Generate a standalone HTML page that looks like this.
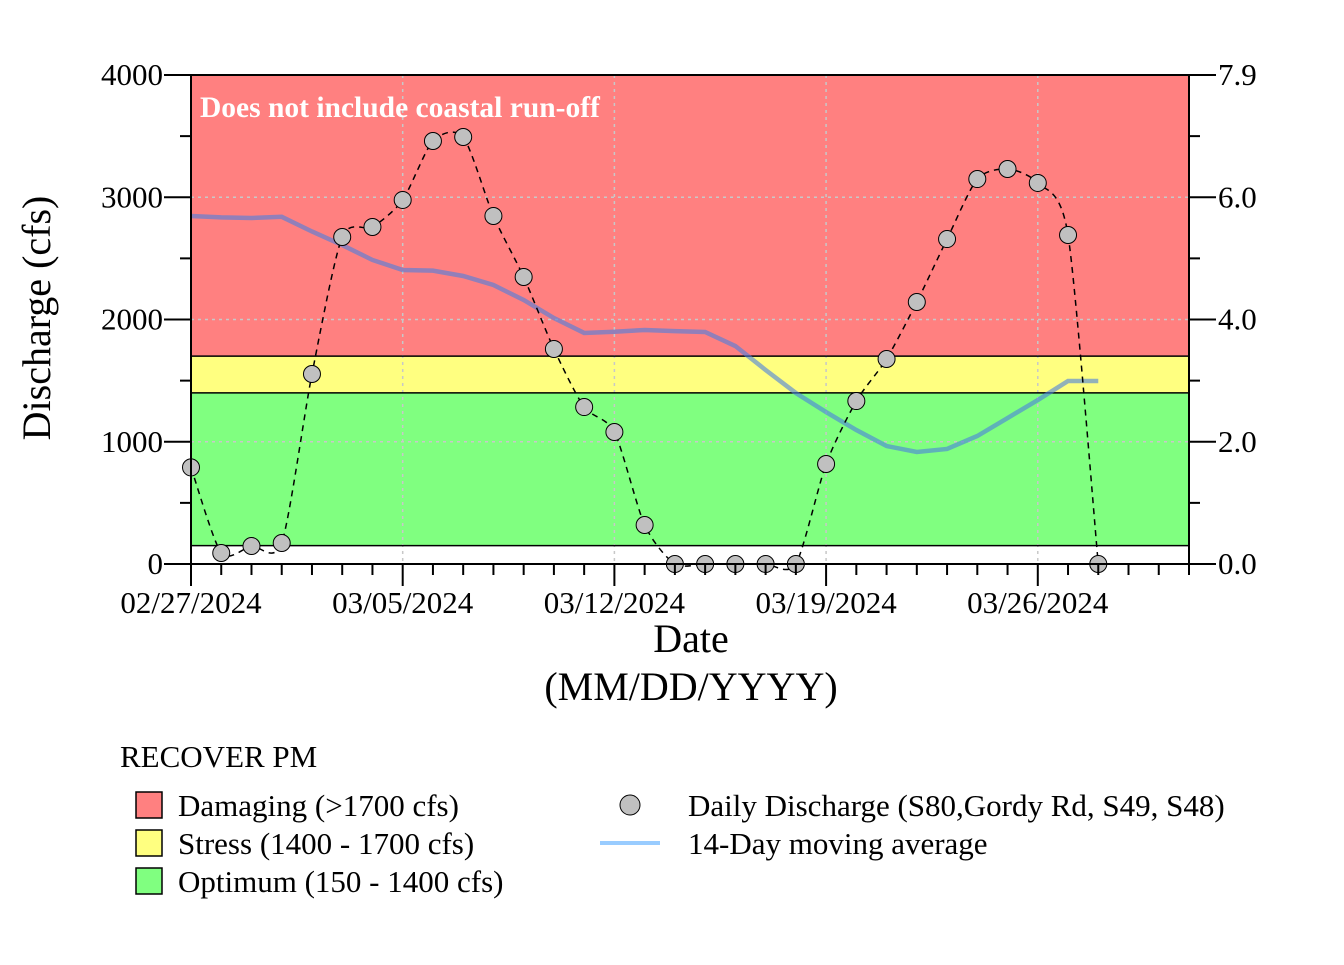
<!DOCTYPE html>
<html><head><meta charset="utf-8"><style>
body{margin:0;background:#fff}
svg text{font-family:"Liberation Serif",serif;fill:#000}
</style></head><body>
<svg width="1344" height="960" viewBox="0 0 1344 960">
<g id="plot"></g>
<g id="axes"></g>
<text x="200" y="117" font-size="29.5" font-weight="bold" style="fill:#fff">Does not include coastal run-off</text>
<text x="50" y="318" font-size="40" transform="rotate(-90 50 318)" text-anchor="middle">Discharge (cfs)</text>
<text x="691" y="652" font-size="40" text-anchor="middle">Date</text>
<text x="691" y="700" font-size="40" text-anchor="middle">(MM/DD/YYYY)</text>
<g>
<text x="120" y="767" font-size="31">RECOVER PM</text>
<rect x="136" y="792" width="26" height="26" fill="#ff8080" stroke="#000" stroke-width="1.5"/>
<text x="178" y="816" font-size="31">Damaging (&gt;1700 cfs)</text>
<rect x="136" y="830" width="26" height="26" fill="#ffff80" stroke="#000" stroke-width="1.5"/>
<text x="178" y="854" font-size="31">Stress (1400 - 1700 cfs)</text>
<rect x="136" y="868" width="26" height="26" fill="#80ff80" stroke="#000" stroke-width="1.5"/>
<text x="178" y="892" font-size="31">Optimum (150 - 1400 cfs)</text>
<circle cx="630" cy="805" r="10" fill="#c0c0c0" stroke="#000"/>
<text x="688" y="816" font-size="31">Daily Discharge (S80,Gordy Rd, S49, S48)</text>
<line x1="600" y1="843" x2="660" y2="843" stroke="#99ccff" stroke-width="4"/>
<text x="688" y="854" font-size="31">14-Day moving average</text>
</g>
</svg>
<script>
const daily=[790,90,147,172,1554,2675,2757,2978,3460,3493,2847,2348,1759,1284,1080,319,0,0,0,0,0,818,1333,1677,2143,2658,3149,3231,3117,2691,0];
const avg14=[2847,2835,2830,2840,2720,2609,2487,2405,2400,2356,2282,2160,2012,1890,1900,1914,1905,1898,1783,1587,1399,1243,1096,965,916,941,1047,1194,1341,1497,1497];
const yTicks=[0,1000,2000,3000,4000];
const yLabels=["0","1000","2000","3000","4000"];
const rTicks=[0,1000,2000,3000,4000];
const rLabels=["0.0","2.0","4.0","6.0","7.9"];
const xLabels=["02/27/2024","03/05/2024","03/12/2024","03/19/2024","03/26/2024"];
const bands=[{lo:150,hi:1400,c:"#80ff80",n:"optimum-band"},{lo:1400,hi:1700,c:"#ffff80",n:"stress-band"},{lo:1700,hi:4000,c:"#ff8080",n:"damaging-band"}];
const X0=191,X1=1189,Y0=564,Y1=75,ND=33;
const xs=d=>X0+d*(X1-X0)/ND, ys=v=>Y0-v*(Y0-Y1)/4000;
const NS="http://www.w3.org/2000/svg";
function mk(p,t,a){const e=document.createElementNS(NS,t);for(const k in a)e.setAttribute(k,a[k]);p.appendChild(e);return e;}
const P=document.getElementById('plot'),A=document.getElementById('axes');
bands.forEach(b=>{const r=mk(P,'rect',{x:X0,y:ys(b.hi),width:X1-X0,height:ys(b.lo)-ys(b.hi),fill:b.c});

});
yTicks.forEach(v=>{if(v>0&&v<4000){const g=mk(P,'line',{x1:X0,x2:X1,y1:ys(v),y2:ys(v),stroke:'#c8c8c8','stroke-width':1.5,'stroke-dasharray':'3,4'});

}});
xLabels.forEach((l,i)=>{if(i>0){const g=mk(P,'line',{x1:xs(i*7),x2:xs(i*7),y1:Y1,y2:Y0,stroke:'#c8c8c8','stroke-width':1.5,'stroke-dasharray':'3,4'});

}});
[150,1400,1700].forEach(v=>{const l=mk(P,'line',{x1:X0,x2:X1,y1:ys(v),y2:ys(v),stroke:'#000','stroke-width':1.5});

});
function spline(pts){let d=`M${pts[0][0]},${pts[0][1]}`;const k=8;for(let i=0;i<pts.length-1;i++){const p0=pts[Math.max(0,i-1)],p1=pts[i],p2=pts[i+1],p3=pts[Math.min(pts.length-1,i+2)];
d+=` C${p1[0]+(p2[0]-p0[0])/k},${p1[1]+(p2[1]-p0[1])/k} ${p2[0]-(p3[0]-p1[0])/k},${p2[1]-(p3[1]-p1[1])/k} ${p2[0]},${p2[1]}`;}return d;}
const ap=avg14.map((v,i)=>[xs(i),ys(v)]);
const al=mk(P,'path',{d:'M'+ap.map(p=>p.join(',')).join(' L'),fill:'none',stroke:'#4a7fe0','stroke-opacity':0.6,'stroke-width':4.5});


const dp=daily.map((v,i)=>[xs(i),ys(v)]);
const dl=mk(P,'path',{d:spline(dp),fill:'none',stroke:'#000','stroke-width':1.5,'stroke-dasharray':'6,5'});


dp.forEach(p=>{const c=mk(P,'circle',{cx:p[0],cy:p[1],r:8.5,fill:'#c0c0c0',stroke:'#000','stroke-width':1});

});
const fr=mk(A,'rect',{x:X0,y:Y1,width:X1-X0,height:Y0-Y1,fill:'none',stroke:'#000','stroke-width':2});


for(let v=0;v<=4000;v+=500){const maj=v%1000==0;
mk(A,'line',{x1:X0-(maj?27:11),x2:X0,y1:ys(v),y2:ys(v),stroke:'#000','stroke-width':2});
mk(A,'line',{x1:X1,x2:X1+(maj?27:11),y1:ys(v),y2:ys(v),stroke:'#000','stroke-width':2});}
yTicks.forEach((v,i)=>{const t=mk(A,'text',{x:X0-28,y:ys(v)+10,'font-size':31,'text-anchor':'end'});t.textContent=yLabels[i];

});
rTicks.forEach((v,i)=>{const t=mk(A,'text',{x:X1+29,y:ys(v)+10,'font-size':31});t.textContent=rLabels[i];

});
for(let d=0;d<=ND;d++){const maj=d%7==0;mk(A,'line',{x1:xs(d),x2:xs(d),y1:Y0,y2:Y0+(maj?22:11),stroke:'#000','stroke-width':2});}
xLabels.forEach((l,i)=>{const t=mk(A,'text',{x:xs(i*7),y:613,'font-size':31,'text-anchor':'middle'});t.textContent=l;

});
</script>
</body></html>
